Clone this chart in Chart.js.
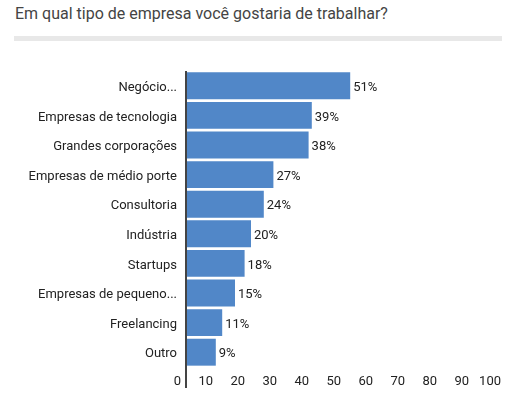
<!DOCTYPE html>
<html>
<head>
<meta charset="utf-8">
<script src="https://cdn.jsdelivr.net/npm/chart.js@4"></script>
<style>
  html,body{margin:0;padding:0;background:#fff;}
  #wrap{position:relative;width:526px;height:400px;}
  #title{position:absolute;left:15px;top:4px;font-family:Roboto,sans-serif;font-size:16px;color:#444;white-space:nowrap;}
  #sep{position:absolute;left:14px;top:36px;width:488px;height:5px;background:#e8e8e8;}
  canvas{position:absolute;left:0;top:0;}
</style>
</head>
<body>
<div id="wrap">
  <div id="title">Em qual tipo de empresa você gostaria de trabalhar?</div>
  <div id="sep"></div>
  <canvas id="c" width="526" height="400"></canvas>
</div>
<script>
const categories = ["Negócio...", "Empresas de tecnologia", "Grandes corporações", "Empresas de médio porte", "Consultoria", "Indústria", "Startups", "Empresas de pequeno...", "Freelancing", "Outro"];
const values = [51, 39, 38, 27, 24, 20, 18, 15, 11, 9];
const xTicks = [0, 10, 20, 30, 40, 50, 60, 70, 80, 90, 100];

const valueLabels = {
  id: 'valueLabels',
  afterDatasetsDraw(chart) {
    const ctx = chart.ctx;
    const meta = chart.getDatasetMeta(0);
    ctx.save();
    ctx.font = '13px Roboto';
    ctx.fillStyle = '#222';
    ctx.textAlign = 'left';
    ctx.textBaseline = 'middle';
    meta.data.forEach((bar, i) => {
      ctx.fillText(values[i] + '%', bar.x + 3, bar.y + 2);
    });
    ctx.restore();
  }
};
const zeroAxis = {
  id: 'zeroAxis',
  afterDatasetsDraw(chart) {
    const ctx = chart.ctx;
    const x = chart.scales.x.getPixelForValue(0);
    const a = chart.chartArea;
    ctx.save();
    ctx.strokeStyle = '#444';
    ctx.lineWidth = 2;
    ctx.beginPath();
    ctx.moveTo(x - 1, a.top);
    ctx.lineTo(x - 1, a.bottom + 21);
    ctx.stroke();
    ctx.restore();
  }
};

new Chart(document.getElementById('c'), {
  type: 'bar',
  data: {
    labels: categories,
    datasets: [{
      data: values,
      backgroundColor: '#5187c8',
      borderWidth: 0,
      barPercentage: 0.91,
      categoryPercentage: 1.0
    }]
  },
  options: {
    indexAxis: 'y',
    responsive: false,
    animation: false,
    layout: { padding: { left: 0, right: 19, top: 71, bottom: 0 } },
    plugins: { legend: { display: false }, tooltip: { enabled: false } },
    scales: {
      x: {
        min: 0, max: 100,
        afterBuildTicks(scale) { scale.ticks = xTicks.map(v => ({ value: v })); },
        afterFit(scale) { scale.height = 33; },
        grid: { display: false, drawTicks: false },
        border: { display: false },
        ticks: { color: '#222', font: { family: 'Roboto', size: 13 }, padding: 7, align: 'end', labelOffset: -6 }
      },
      y: {
        afterFit(scale) { scale.width = 187; },
        grid: { display: false, drawTicks: false },
        border: { display: false },
        ticks: { color: '#222', font: { family: 'Roboto', size: 13 }, padding: 10, labelOffset: 2 }
      }
    }
  },
  plugins: [valueLabels, zeroAxis]
});
</script>
</body>
</html>
